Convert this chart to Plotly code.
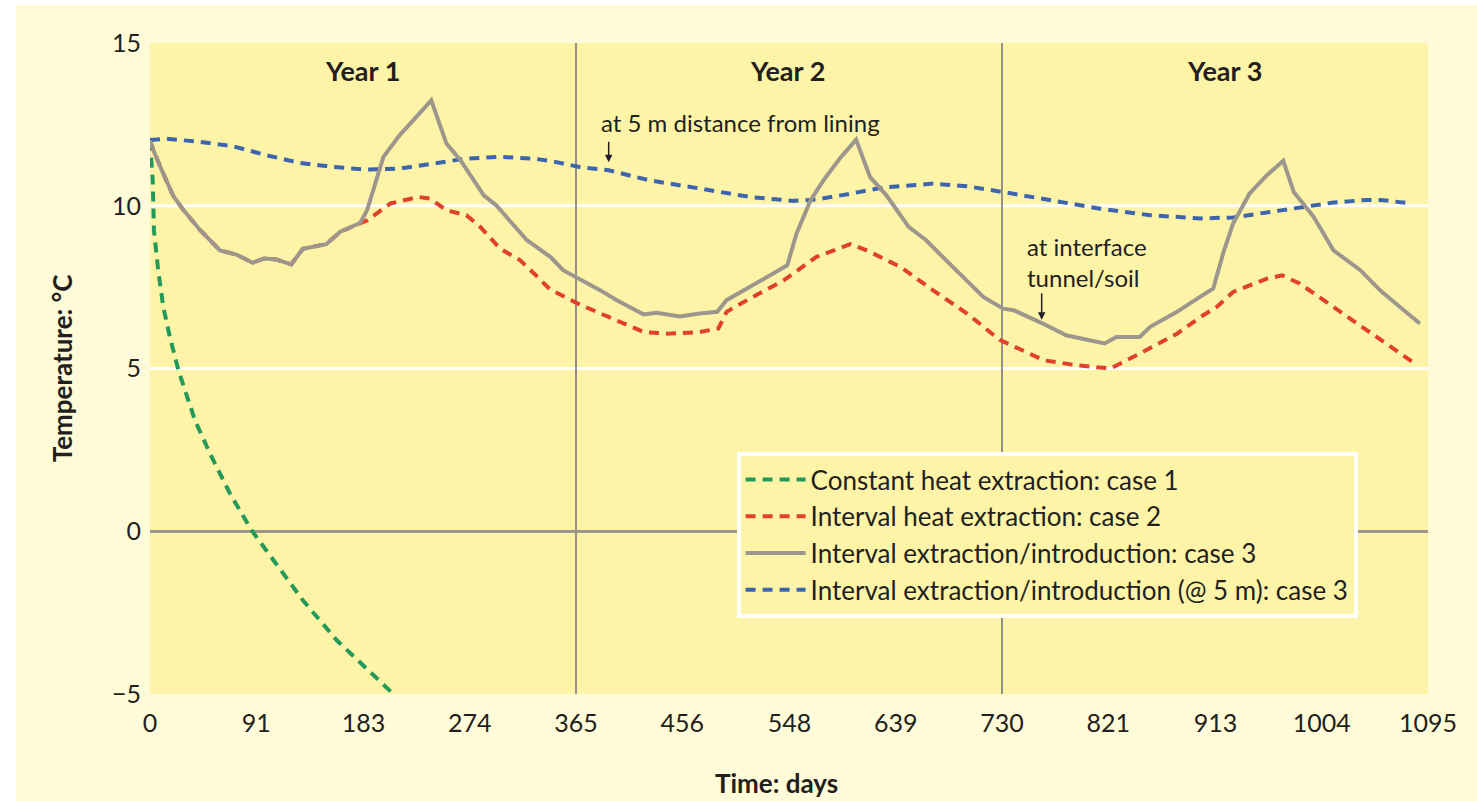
import plotly.graph_objects as go

# ---------------- data ----------------
days_case1 = [0, 2.3, 3.4, 7, 11.4, 17, 24.3, 33, 38.6, 51.4, 68.5, 87, 105.6, 131, 160, 194, 208.5]
temp_case1 = [12.0, 10.8, 9.25, 8.02, 6.89, 5.97, 4.95, 4.02, 3.4, 2.39, 1.16, 0.03, -0.89, -2.12, -3.35, -4.48, -5.0]

days_case3 = [0, 3, 10, 20, 29, 43, 60, 74, 88, 98, 108, 121, 131, 151, 163, 180, 186, 200, 214, 241,
              254, 266, 286, 297, 323, 343, 354, 368, 386, 400, 423, 434, 454, 471, 486, 494, 505, 520,
              531, 546, 554, 566, 577, 591, 605, 617, 631, 650, 665, 685, 714, 731, 740, 765, 785, 805,
              818, 828, 848, 857, 880, 891, 911, 920, 928, 942, 957, 971, 980, 997, 1014, 1037, 1054,
              1071, 1088]
temp_case3 = [12.0, 11.7, 11.1, 10.3, 9.85, 9.25, 8.63, 8.5, 8.25, 8.38, 8.35, 8.2, 8.68, 8.82, 9.2, 9.47,
              9.86, 11.5, 12.17, 13.24, 11.91, 11.4, 10.32, 10.0, 8.94, 8.43, 8.02, 7.76, 7.4, 7.1, 6.66,
              6.71, 6.6, 6.69, 6.74, 7.1, 7.32, 7.61, 7.86, 8.17, 9.15, 10.17, 10.78, 11.45, 12.03, 10.88,
              10.32, 9.35, 8.94, 8.22, 7.2, 6.84, 6.79, 6.38, 6.02, 5.87, 5.77, 5.97, 5.97, 6.28, 6.74,
              7.0, 7.46, 8.6, 9.45, 10.37, 10.94, 11.38, 10.42, 9.66, 8.63, 8.02, 7.4, 6.89, 6.38]

days_case2 = [0, 3, 10, 20, 29, 43, 60, 74, 88, 98, 108, 121, 131, 151, 163, 180, 186, 206, 230, 240,
              254, 271, 283, 300, 317, 329, 343, 351, 368, 386, 400, 423, 443, 471, 487, 494, 514, 543,
              571, 600, 614, 643, 671, 700, 728, 766, 794, 823, 848, 880, 900, 914, 928, 943, 957, 970,
              985, 1014, 1042, 1085]
temp_case2 = [12.0, 11.7, 11.1, 10.3, 9.85, 9.25, 8.63, 8.5, 8.25, 8.38, 8.35, 8.2, 8.68, 8.82, 9.2, 9.47,
              9.55, 10.07, 10.27, 10.22, 9.86, 9.71, 9.35, 8.68, 8.33, 7.92, 7.42, 7.28, 6.97, 6.69, 6.48,
              6.12, 6.07, 6.12, 6.23, 6.74, 7.15, 7.71, 8.43, 8.82, 8.63, 8.12, 7.4, 6.69, 5.88, 5.25,
              5.1, 5.0, 5.46, 6.07, 6.58, 6.89, 7.35, 7.55, 7.76, 7.86, 7.61, 6.89, 6.2, 5.12]

days_case3_5m = [0, 14, 43, 71, 100, 128, 157, 186, 214, 243, 271, 300, 328, 343, 368, 393, 428, 471, 514,
                 551, 571, 600, 628, 671, 700, 731, 771, 814, 857, 900, 928, 957, 985, 1014, 1043, 1057, 1078]
temp_case3_5m = [12.02, 12.06, 11.96, 11.83, 11.55, 11.32, 11.19, 11.11, 11.14, 11.3, 11.45, 11.5, 11.45,
                 11.38, 11.19, 11.09, 10.78, 10.53, 10.27, 10.15, 10.19, 10.37, 10.56, 10.68, 10.6, 10.42,
                 10.17, 9.91, 9.71, 9.61, 9.64, 9.79, 9.95, 10.1, 10.18, 10.17, 10.08]

x_ticks = [0, 91, 183, 274, 365, 456, 548, 639, 730, 821, 913, 1004, 1095]
y_ticks = [-5, 0, 5, 10, 15]
year_bounds = [365, 730]
year_labels = ["Year 1", "Year 2", "Year 3"]
year_label_days = [182, 546, 921]

# ---------------- style ----------------
FONT = "Lato"
TXT = "#231f20"
CREAM = "#fffad8"
YELLOW = "#fdf4a8"
GREEN = "#23995a"
RED = "#e0402d"
GRAY = "#9d968d"
BLUE = "#3d64ad"
DASH = "10px,7px"

fig = go.Figure()
fig.add_trace(go.Scatter(x=days_case1, y=temp_case1, mode="lines",
                         name="Constant heat extraction: case 1", legendrank=1,
                         line=dict(color=GREEN, width=4, dash=DASH)))
fig.add_trace(go.Scatter(x=days_case2, y=temp_case2, mode="lines",
                         name="Interval heat extraction: case 2", legendrank=2,
                         line=dict(color=RED, width=4, dash=DASH)))
fig.add_trace(go.Scatter(x=days_case3_5m, y=temp_case3_5m, mode="lines",
                         name="Interval extraction/introduction (@ 5 m): case 3", legendrank=4,
                         line=dict(color=BLUE, width=4, dash=DASH)))
fig.add_trace(go.Scatter(x=days_case3, y=temp_case3, mode="lines",
                         name="Interval extraction/introduction: case 3", legendrank=3,
                         line=dict(color=GRAY, width=4)))

shapes = [
    dict(type="rect", xref="paper", yref="paper", x0=-0.105, x1=1.06, y0=-0.2, y1=1.0584,
         fillcolor=CREAM, line=dict(width=0), layer="below"),
    dict(type="rect", xref="paper", yref="paper", x0=0, x1=1, y0=0, y1=1,
         fillcolor=YELLOW, line=dict(width=0), layer="below"),
]
for v in [5, 10]:
    shapes.append(dict(type="line", xref="paper", yref="y", x0=0, x1=1, y0=v, y1=v,
                       line=dict(color="white", width=3), layer="below"))
for b in year_bounds:
    shapes.append(dict(type="line", xref="x", yref="paper", x0=b, x1=b, y0=0, y1=1,
                       line=dict(color="#948f88", width=2), layer="below"))

annotations = []
for lbl, d in zip(year_labels, year_label_days):
    annotations.append(dict(x=d, y=14.15, xref="x", yref="y", text=lbl, showarrow=False,
                            xanchor="center", yanchor="middle",
                            font=dict(family=FONT, size=27, color=TXT, weight="bold")))
annotations += [
    dict(x=506, y=12.57, xref="x", yref="y", text="at 5 m distance from lining", showarrow=False,
         xanchor="center", yanchor="middle", font=dict(family=FONT, size=24, color=TXT)),
    dict(x=393, y=11.34, xref="x", yref="y", text="", showarrow=True, ax=0, ay=-22,
         arrowhead=2, arrowsize=1, arrowwidth=1.5, arrowcolor=TXT),
    dict(x=750, y=8.26, xref="x", yref="y", text="at interface<br>tunnel/soil", showarrow=False,
         xanchor="left", yanchor="middle", align="left", font=dict(family=FONT, size=24, color=TXT)),
    dict(x=764, y=6.5, xref="x", yref="y", text="", showarrow=True, ax=0, ay=-28,
         arrowhead=2, arrowsize=1, arrowwidth=1.5, arrowcolor=TXT),
    dict(x=-0.069, y=0.5, xref="paper", yref="paper", text="Temperature: °C", textangle=-90,
         xanchor="center", yanchor="middle",
         showarrow=False, font=dict(family=FONT, size=26, color=TXT, weight="bold")),
    dict(x=0.49, y=-0.137, xref="paper", yref="paper", text="Time: days", showarrow=False,
         xanchor="center", yanchor="middle",
         font=dict(family=FONT, size=26, color=TXT, weight="bold")),
]

fig.update_layout(
    width=1477, height=801,
    margin=dict(l=150, r=49, t=43, b=107, autoexpand=False),
    paper_bgcolor="white", plot_bgcolor="rgba(0,0,0,0)",
    font=dict(family=FONT, color=TXT),
    shapes=shapes, annotations=annotations,
    showlegend=True,
    legend=dict(x=0.459, y=0.3717, xanchor="left", yanchor="top",
                bgcolor=YELLOW, bordercolor="white", borderwidth=4,
                font=dict(family=FONT, size=26, color=TXT), tracegroupgap=0,
                itemwidth=60),
    xaxis=dict(range=[0, 1095], tickvals=x_ticks, ticktext=[str(t) for t in x_ticks],
               showgrid=False, zeroline=False, showline=False, ticks="",
               tickfont=dict(family=FONT, size=25, color=TXT), automargin=False,
               ticklabelstandoff=12),
    yaxis=dict(range=[-5, 15], tickvals=y_ticks, ticktext=["\u22125", "0", "5", "10", "15"],
               showgrid=False, zeroline=True, zerolinecolor=GRAY, zerolinewidth=3,
               showline=False, ticks="", tickfont=dict(family=FONT, size=25, color=TXT),
               automargin=False, ticklabelstandoff=8),
)

fig.write_html("out.html")
